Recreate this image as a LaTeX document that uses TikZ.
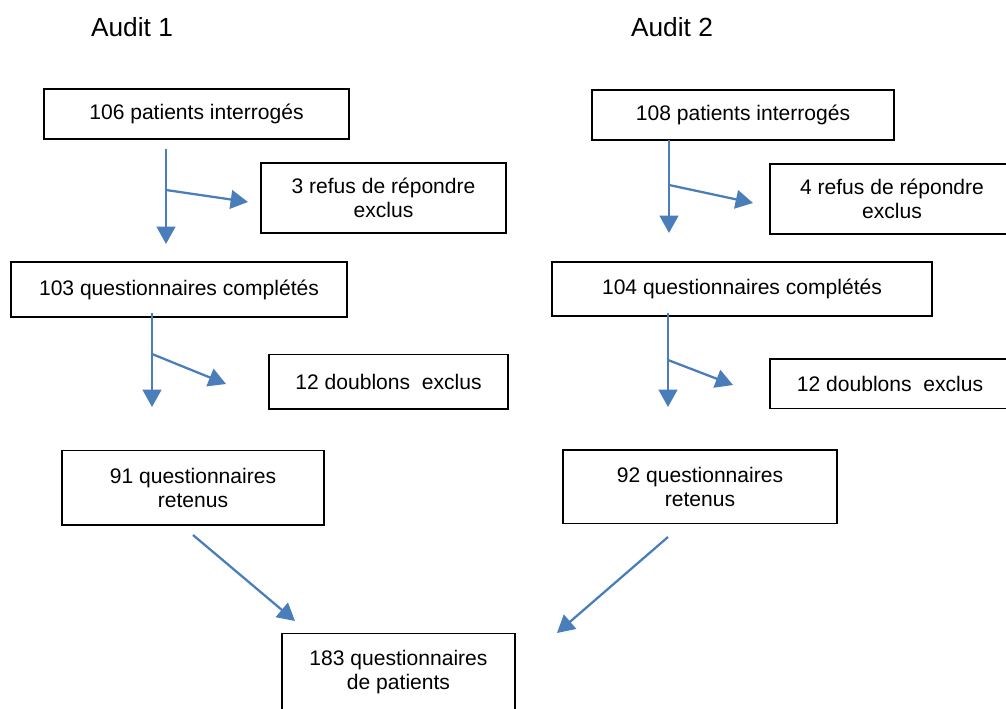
\documentclass[tikz,border=0pt]{standalone}
\usepackage{fontspec}
\setmainfont{Liberation Sans}
\usetikzlibrary{arrows.meta}

\definecolor{flowblue}{HTML}{4A7EBB}

\begin{document}
\begin{tikzpicture}[x=0.75pt,y=-0.75pt,
                box/.style={draw=black,line width=1pt,rectangle,inner sep=0pt,align=center,
                            font=\fontsize{15.8}{18}\selectfont},
                title/.style={font=\fontsize{19.7}{22}\selectfont},
                flow/.style={draw=flowblue,line width=1.7pt,-{Triangle[length=13pt,width=14pt]}}]
                \useasboundingbox (0,0) rectangle (1006,709);

                % Titles
                \node[title] (audit1) at (132,27) {Audit 1};
                \node[title] (audit2) at (672,27) {Audit 2};

                % Audit 1 boxes
                \node[box,minimum width=228.75pt,minimum height=37.5pt] (l1) at (196.5,114) {106 patients interrogés};
                \node[box,minimum width=183.75pt,minimum height=52.5pt] (lrefus) at (383.5,198) {3 refus de répondre\\exclus};
                \node[box,minimum width=252pt,minimum height=41pt] (lcomp) at (179,289.5) {103 questionnaires complétés};
                \node[box,minimum width=179.25pt,minimum height=41pt] (ldoub) at (388.5,381.5) {12 doublons\ \ exclus};
                \node[box,minimum width=196.5pt,minimum height=56pt] (lret) at (193,487.5) {91 questionnaires\\retenus};

                % Audit 2 boxes
                \node[box,minimum width=226.5pt,minimum height=37.5pt] (r1) at (743,115) {108 patients interrogés};
                \node[box,minimum width=183pt,minimum height=52.5pt] (rrefus) at (892,199) {4 refus de répondre\\exclus};
                \node[box,minimum width=285pt,minimum height=40.5pt] (rcomp) at (742,289) {104 questionnaires complétés};
                \node[box,minimum width=180pt,minimum height=37pt] (rdoub) at (890,383.5) {12 doublons\ \ exclus};
                \node[box,minimum width=205.5pt,minimum height=55pt] (rret) at (700,486.5) {92 questionnaires\\retenus};

                % Total
                \node[box,minimum width=174.75pt,minimum height=59pt] (total) at (398.5,672.5) {183 questionnaires\\de patients};

                % Arrow ends, Audit 1
                \coordinate (l1top) at (166,149);
                \coordinate (l1tip) at (166,244);
                \coordinate (l1fork) at (166,190);
                \coordinate (l1side) at (248,202);
                \coordinate (l2top) at (152,313);
                \coordinate (l2tip) at (152,407);
                \coordinate (l2fork) at (152,354);
                \coordinate (l2side) at (226,384);
                \coordinate (l3top) at (193,535);
                \coordinate (l3tip) at (295,621);

                % Arrow ends, Audit 2
                \coordinate (r1top) at (669,140);
                \coordinate (r1tip) at (669,233);
                \coordinate (r1fork) at (669,185);
                \coordinate (r1side) at (753,203);
                \coordinate (r2top) at (668,313);
                \coordinate (r2tip) at (668,407);
                \coordinate (r2fork) at (668,360);
                \coordinate (r2side) at (733,385);
                \coordinate (r3top) at (668,537);
                \coordinate (r3tip) at (557,633);

                % Arrows
                \draw[flow] (l1top) -- (l1tip);
                \draw[flow] (l1fork) -- (l1side);
                \draw[flow] (l2top) -- (l2tip);
                \draw[flow] (l2fork) -- (l2side);
                \draw[flow] (l3top) -- (l3tip);

                \draw[flow] (r1top) -- (r1tip);
                \draw[flow] (r1fork) -- (r1side);
                \draw[flow] (r2top) -- (r2tip);
                \draw[flow] (r2fork) -- (r2side);
                \draw[flow] (r3top) -- (r3tip);
            \end{tikzpicture}
\end{document}
